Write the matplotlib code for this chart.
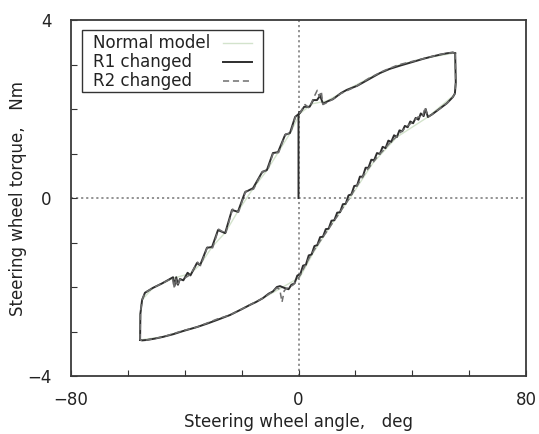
import matplotlib
matplotlib.use('Agg')
import matplotlib.pyplot as plt
from matplotlib.patches import Rectangle

plt.rcParams['font.family'] = ['DejaVu Sans']

# start-up step at zero angle
start_x = [0.0, 0.0, 0.3]
start_y = [0.0, 1.86, 1.93]

# R1 changed: upper branch (angle increasing), left to right
r1_up_x = [-55.7, -55.6, -55.0, -54.0, -51.2, -48.0, -44.1, -43.6, -43.0, -42.4, -41.7,
           -40.5, -39.0, -38.0, -35.7, -34.6, -32.2, -30.4, -28.3, -25.8, -23.4, -21.3,
           -18.8, -16.0, -12.8, -11.1, -9.0, -7.2, -4.7, -3.0, -1.2, 0.5, 2.0, 3.9,
           5.2, 6.5, 7.6, 8.6, 10.5, 12.1, 15.0, 17.0, 20.6, 24.5, 28.7, 32.0, 36.0,
           40.3, 44.0, 47.0, 49.7, 52.0, 54.3, 55.1]
r1_up_y = [-3.19, -2.60, -2.29, -2.13, -2.02, -1.92, -1.78, -1.98, -1.78, -1.95, -1.82,
           -1.85, -1.68, -1.74, -1.46, -1.51, -1.12, -1.10, -0.72, -0.79, -0.27, -0.31,
           0.13, 0.22, 0.58, 0.63, 1.01, 1.03, 1.42, 1.46, 1.82, 1.91, 2.05, 2.05,
           2.20, 2.20, 2.30, 2.12, 2.18, 2.22, 2.36, 2.43, 2.52, 2.66, 2.81, 2.90, 2.98,
           3.06, 3.13, 3.18, 3.22, 3.25, 3.27, 3.25]

# R1 changed: lower branch (angle decreasing), right to left
r1_dn_x = [55.1, 55.3, 55.0, 54.3, 52.2, 49.5, 47.0, 45.5, 44.7, 44.0, 43.0, 42.2, 41.2,
           40.3, 39.3, 38.4, 37.4, 36.5, 35.5, 34.6, 33.6, 32.6, 31.6, 30.6, 29.6, 28.6,
           27.6, 26.6, 25.6, 24.6, 23.6, 22.6, 21.6, 20.6, 19.6, 18.6, 17.6, 16.6, 15.6,
           14.6, 13.6, 12.6, 11.6, 10.6, 9.6, 8.6, 7.6, 6.6, 5.6, 4.6, 3.6, 2.6, 1.6,
           0.6, -0.4, -1.4, -2.5, -3.5, -5.0, -6.5, -7.6, -9.0, -10.5, -12.5, -15.0,
           -17.0, -20.0, -24.1, -28.6, -32.0, -35.7, -40.6, -44.0, -47.6, -50.5, -53.3,
           -55.0, -55.7]
r1_dn_y = [3.25, 2.60, 2.35, 2.27, 2.13, 2.00, 1.88, 1.82, 2.00, 1.84, 1.90, 1.76, 1.80,
           1.68, 1.72, 1.59, 1.62, 1.50, 1.52, 1.37, 1.41, 1.26, 1.29, 1.12, 1.15, 0.99,
           1.01, 0.85, 0.86, 0.68, 0.68, 0.48, 0.48, 0.28, 0.27, 0.08, 0.06, -0.13, -0.14,
           -0.32, -0.33, -0.50, -0.51, -0.69, -0.70, -0.87, -0.88, -1.06, -1.08, -1.27,
           -1.29, -1.50, -1.52, -1.72, -1.74, -1.92, -1.95, -2.05, -2.02, -1.98, -2.00,
           -2.10, -2.15, -2.25, -2.34, -2.40, -2.50, -2.63, -2.74, -2.82, -2.90, -2.99,
           -3.06, -3.12, -3.16, -3.19, -3.20, -3.19]

# R2 changed
r2_up_x = [-55.7, -55.6, -55.0, -54.0, -51.2, -48.0, -44.3, -43.8, -43.2, -42.6, -41.8,
           -40.0, -38.0, -35.5, -34.4, -32.0, -30.2, -28.1, -25.6, -23.2, -21.1, -18.6,
           -15.8, -12.6, -10.9, -8.8, -7.0, -4.5, -2.8, -1.0, 0.7, 2.3, 3.8, 5.3, 6.6,
           7.3, 8.0, 8.6, 10.5, 12.5, 15.0, 20.0, 25.0, 30.0, 35.0, 40.0, 45.0, 50.0,
           54.3, 55.1]
r2_up_y = [-3.19, -2.60, -2.29, -2.13, -2.02, -1.92, -1.80, -2.02, -1.80, -1.98, -1.84,
           -1.80, -1.72, -1.44, -1.52, -1.10, -1.12, -0.70, -0.80, -0.25, -0.32, 0.15,
           0.20, 0.60, 0.61, 1.03, 1.02, 1.44, 1.45, 1.84, 1.93, 2.10, 2.02, 2.25, 2.42,
           2.28, 2.40, 2.10, 2.16, 2.24, 2.35, 2.50, 2.70, 2.86, 2.99, 3.07, 3.15, 3.23,
           3.27, 3.25]
r2_dn_x = [55.1, 55.3, 55.0, 54.3, 52.2, 49.5, 47.0, 45.5, 44.5, 43.6, 42.0, 40.0, 38.0,
           36.0, 34.0, 32.0, 30.0, 28.0, 26.0, 24.0, 22.0, 20.0, 18.0, 16.0, 14.0, 12.0,
           10.0, 8.0, 6.0, 4.0, 2.0, 0.0, -2.0, -3.5, -5.0, -5.8, -6.6, -7.6, -9.0,
           -12.5, -17.0, -24.1, -28.6, -35.7, -40.6, -47.6, -53.3, -55.0, -55.7]
r2_dn_y = [3.25, 2.60, 2.35, 2.27, 2.13, 2.00, 1.88, 1.82, 2.04, 1.82, 1.82, 1.70, 1.60,
           1.48, 1.35, 1.23, 1.08, 0.95, 0.78, 0.62, 0.42, 0.22, 0.00, -0.18, -0.38,
           -0.56, -0.75, -0.93, -1.12, -1.32, -1.56, -1.80, -1.96, -2.00, -2.08, -2.34,
           -2.05, -2.02, -2.10, -2.25, -2.40, -2.63, -2.72, -2.90, -2.98, -3.12, -3.19,
           -3.20, -3.19]

# Normal model (mostly hidden under the others)
nm_x = [-55.7, -55.6, -55.0, -51.2, -44.0, -38.0, -34.6, -30.4, -25.8, -21.3, -16.0,
        -11.1, -7.2, -3.0, 0.5, 5.0, 10.0, 17.0, 25.0, 35.0, 45.0, 55.0, 55.3, 55.0,
        45.5, 34.6, 26.2, 18.1, 11.0, 5.1, 0.5, -6.0, -12.5, -24.1, -35.7, -47.6, -55.7]
nm_y = [-3.19, -2.60, -2.29, -2.02, -1.80, -1.70, -1.50, -1.10, -0.78, -0.30, 0.21,
        0.62, 1.02, 1.45, 1.90, 2.12, 2.18, 2.43, 2.70, 2.98, 3.15, 3.26, 2.60, 2.33,
        1.82, 1.37, 0.79, 0.00, -0.65, -1.24, -1.78, -2.02, -2.25, -2.63, -2.90, -3.12,
        -3.19]

series_names = ['Normal model', 'R1 changed', 'R2 changed']

x_ticks = [-80, -60, -40, -20, 0, 20, 40, 60, 80]
x_labels = ['\u221280', '', '', '', '0', '', '', '', '80']
y_ticks = [-4, -3, -2, -1, 0, 1, 2, 3, 4]
y_labels = ['\u22124', '', '', '', '0', '', '', '', '4']

nm_style = dict(color='#d3e3cc', lw=1.0)
r1_style = dict(color='#2e2e2e', lw=1.4)
r2_style = dict(color='#6e6e6e', lw=1.1, ls=(0, (4, 2.5)))

fig = plt.figure(figsize=(5.39, 4.34), dpi=100)
ax = fig.add_axes([71 / 539, 1 - 376 / 434, 455 / 539, 356 / 434])

ax.axhline(0, color='#8a8a8a', ls=(0, (1.2, 1.6)), lw=1.3, zorder=0)
ax.axvline(0, color='#8a8a8a', ls=(0, (1.2, 1.6)), lw=1.3, zorder=0)

ax.plot(nm_x, nm_y, zorder=1, **nm_style)
ax.plot(start_x, start_y, zorder=2, **r1_style)
ax.plot(r1_up_x, r1_up_y, zorder=2, **r1_style)
ax.plot(r1_dn_x, r1_dn_y, zorder=2, **r1_style)
ax.plot(r2_up_x, r2_up_y, zorder=3, **r2_style)
ax.plot(r2_dn_x, r2_dn_y, zorder=3, **r2_style)

ax.set_xlim(-80, 80)
ax.set_ylim(-4, 4)
ax.set_xticks(x_ticks)
ax.set_xticklabels(x_labels)
ax.set_yticks(y_ticks)
ax.set_yticklabels(y_labels)
ax.tick_params(axis='both', direction='in', length=4, width=0.8, colors='#333333',
               labelsize=12, labelcolor='#222222')
ax.tick_params(axis='y', pad=14)
ax.tick_params(axis='x', pad=11)
for s in ax.spines.values():
    s.set_color('#3a3a3a')
    s.set_linewidth(1.3)

ax.set_xlabel('Steering wheel angle,\u2003deg', fontsize=12, color='#222222', labelpad=3)
ax.set_ylabel('Steering wheel torque,\u2003Nm', fontsize=12, color='#222222', labelpad=0)

# legend box: text on the left, line sample on the right
ax.add_patch(Rectangle((0.0242, 0.798), 0.398, 0.174, transform=ax.transAxes,
                       facecolor='white', edgecolor='#333333', lw=1.0, zorder=5))
row_y = [0.935, 0.882, 0.830]
for name, yy, st in zip(series_names, row_y, [nm_style, r1_style, r2_style]):
    ax.text(0.0484, yy, name, transform=ax.transAxes, fontsize=12, color='#222222',
            va='center', ha='left', zorder=6)
    ax.plot([0.334, 0.398], [yy, yy], transform=ax.transAxes, zorder=6, **st)

fig.savefig('out.png', dpi=100)
